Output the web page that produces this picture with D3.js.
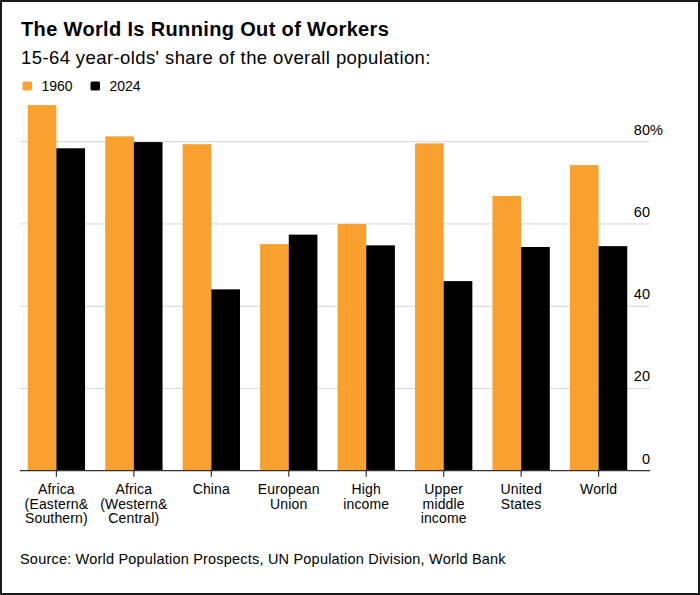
<!DOCTYPE html>
<html>
<head>
<meta charset="utf-8">
<script src="https://cdn.jsdelivr.net/npm/d3@7"></script>
<style>
  html, body { margin: 0; padding: 0; background: #fff; }
  svg { display: block; font-family: "Liberation Sans", Arial, sans-serif; }
</style>
</head>
<body>
<svg id="chart" width="700" height="595"></svg>
<script>
// Daten
const categories = [
    'Africa\n(Eastern&\nSouthern)',
    'Africa\n(Western&\nCentral)',
    'China',
    'European\nUnion',
    'High\nincome',
    'Upper\nmiddle\nincome',
    'United\nStates',
    'World'
];
const seriesNames = ['1960', '2024'];
const values1960 = [88.9, 81.3, 79.4, 55.1, 60.0, 79.6, 66.8, 74.3];
const values2024 = [78.4, 79.9, 44.1, 57.4, 54.8, 46.1, 54.4, 54.6];
const yTicks = [0, 20, 40, 60, 80];

const colors = { '1960': '#f9a12e', '2024': '#000000' };

const svg = d3.select('#chart');

// Rahmen
svg.append('rect')
    .attr('x', 1).attr('y', 1)
    .attr('width', 698).attr('height', 593)
    .attr('fill', 'none')
    .attr('stroke', '#1a1a1a')
    .attr('stroke-width', 2);

// Titel
svg.append('text')
    .attr('x', 21).attr('y', 36)
    .style('font-size', '20px')
    .style('font-weight', '700')
    .style('letter-spacing', '0.35px')
    .style('fill', '#000')
    .text('The World Is Running Out of Workers');

svg.append('text')
    .attr('x', 21).attr('y', 64)
    .style('font-size', '18.5px')
    .style('letter-spacing', '0.4px')
    .style('fill', '#000')
    .text("15-64 year-olds' share of the overall population:");

// Legende
const legend = svg.append('g');
const legendX = [22.5, 90.5];
seriesNames.forEach((s, i) => {
    legend.append('rect')
        .attr('x', legendX[i]).attr('y', 81.5)
        .attr('width', 9.5).attr('height', 9)
        .attr('rx', 1.5)
        .attr('fill', colors[s]);
    legend.append('text')
        .attr('x', legendX[i] + 19).attr('y', 90.5)
        .style('font-size', '14px')
        .style('fill', '#000')
        .text(s);
});

// Skalen
const x0 = d3.scaleBand()
    .domain(categories)
    .range([20, 635])
    .paddingInner(0.26)
    .paddingOuter(0.1);

const x1 = d3.scaleBand()
    .domain(seriesNames)
    .range([0, x0.bandwidth()])
    .padding(0);

const y = d3.scaleLinear()
    .domain([0, 80])
    .range([470.7, 141.7]);

// Gitterlinien
svg.append('g')
    .selectAll('line')
    .data(yTicks.filter(d => d > 0))
    .enter()
    .append('line')
    .attr('x1', 20).attr('x2', 650)
    .attr('y1', d => y(d)).attr('y2', d => y(d))
    .attr('stroke', '#d6d6d6')
    .attr('stroke-width', 1);

// Y-Achsen-Labels
const yLab = svg.append('g');
yLab.selectAll('text')
    .data(yTicks)
    .enter()
    .append('text')
    .attr('x', 650)
    .attr('y', d => y(d) - 7)
    .attr('text-anchor', 'end')
    .style('font-size', '14.5px')
    .style('fill', '#000')
    .text(d => d);
yLab.append('text')
    .attr('x', 650)
    .attr('y', y(80) - 7)
    .style('font-size', '14.5px')
    .style('fill', '#000')
    .text('%');

// Balken
const rows = categories.map((c, i) => ({
    cat: c,
    vals: [
        { key: '1960', v: values1960[i] },
        { key: '2024', v: values2024[i] }
    ]
}));

const groups = svg.append('g')
    .selectAll('g')
    .data(rows)
    .enter()
    .append('g')
    .attr('transform', d => `translate(${x0(d.cat)},0)`);

groups.selectAll('rect')
    .data(d => d.vals)
    .enter()
    .append('rect')
    .attr('x', d => x1(d.key))
    .attr('width', x1.bandwidth())
    .attr('y', d => y(d.v))
    .attr('height', d => y(0) - y(d.v))
    .attr('fill', d => colors[d.key]);

// X-Achse
const xAxis = svg.append('g')
    .attr('transform', `translate(0,${y(0)})`);

xAxis.append('line')
    .attr('x1', 20).attr('x2', 650)
    .attr('y1', 0).attr('y2', 0)
    .attr('stroke', '#333')
    .attr('stroke-width', 1.2);

const ticks = xAxis.selectAll('.tick')
    .data(categories)
    .enter()
    .append('g')
    .attr('class', 'tick')
    .attr('transform', d => `translate(${x0(d) + x0.bandwidth() / 2},0)`);

ticks.append('line')
    .attr('y1', 0).attr('y2', 6)
    .attr('stroke', '#333')
    .attr('stroke-width', 1.2);

ticks.append('text')
    .attr('text-anchor', 'middle')
    .style('font-size', '14px')
    .style('letter-spacing', '0.15px')
    .style('fill', '#000')
    .selectAll('tspan')
    .data(d => d.split('\n'))
    .enter()
    .append('tspan')
    .attr('x', 0)
    .attr('y', (d, i) => 23.6 + i * 14.5)
    .text(d => d);

// Quelle
svg.append('text')
    .attr('x', 20).attr('y', 564)
    .style('font-size', '14.5px')
    .style('letter-spacing', '0.2px')
    .style('fill', '#000')
    .text('Source: World Population Prospects, UN Population Division, World Bank');
</script>
</body>
</html>
